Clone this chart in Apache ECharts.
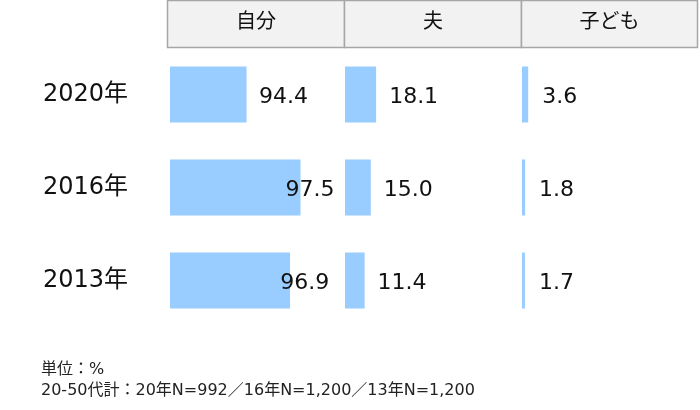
<!DOCTYPE html>
<html>
<head>
<meta charset="utf-8">
<script src="https://cdn.jsdelivr.net/npm/echarts@6/dist/echarts.min.js"></script>
<style>html,body{margin:0;padding:0;background:#fff}#c{width:700px;height:410px}</style>
</head>
<body>
<div id="c"></div>
<script>
const years = ['2020年', '2016年', '2013年'];
const panels = ['自分', '夫', '子ども'];
const jibun = [94.4, 97.5, 96.9];
const otto = [18.1, 15.0, 11.4];
const kodomo = [3.6, 1.8, 1.7];
const notes = ['単位：%', '20-50代計：20年N=992／16年N=1,200／13年N=1,200'];

const FONT = "'DejaVu Sans', 'Noto Sans CJK JP', sans-serif";
const BAR = '#99CCFF';
const TXT = '#111111';
const fmt = p => (Array.isArray(p.value) ? p.value[0] : p.value).toFixed(1);

const gridTop = 48, gridH = 279;
const cols = [
  { left: 170, width: 174 },
  { left: 345, width: 172 },
  { left: 522, width: 172 }
];
const headerX = [167.5, 344.5, 521.5, 697.5];

const chart = echarts.init(document.getElementById('c'), null, { renderer: 'canvas' });

const yAxisBase = (gi, showLabel) => ({
  type: 'category', gridIndex: gi, data: years, inverse: true,
  axisLine: { show: false }, axisTick: { show: false }, splitLine: { show: false },
  axisLabel: showLabel ? {
    show: true, fontSize: 24, color: TXT, fontFamily: FONT, align: 'left', margin: 127,
    padding: [4, 0, 0, 0]
  } : { show: false }
});
const xAxisBase = (gi, min, max) => ({
  type: 'value', gridIndex: gi, min: min, max: max, show: false
});

const valueLabel = (dist) => ({
  show: true, position: 'right', distance: dist, offset: [0, 3], fontSize: 22, color: TXT,
  fontFamily: FONT, formatter: fmt
});

const headerGraphics = [];
panels.forEach((name, i) => {
  headerGraphics.push({
    type: 'rect', silent: true,
    shape: { x: headerX[i], y: 0.5, width: headerX[i + 1] - headerX[i], height: 47 },
    style: { fill: '#F2F2F2', stroke: '#A6A6A6', lineWidth: 1.5 }
  });
  headerGraphics.push({
    type: 'text', silent: true,
    x: (headerX[i] + headerX[i + 1]) / 2, y: 23,
    style: { text: name, fontSize: 20, fill: TXT, fontFamily: FONT, align: 'center', verticalAlign: 'middle' }
  });
});
notes.forEach((t, i) => {
  headerGraphics.push({
    type: 'text', silent: true, x: 41, y: 370 + i * 21,
    style: { text: t, fontSize: 16, fill: '#222', fontFamily: FONT, align: 'left', verticalAlign: 'middle' }
  });
});

chart.setOption({
  animation: false,
  backgroundColor: '#fff',
  grid: cols.map(c => ({ left: c.left, width: c.width, top: gridTop, height: gridH })),
  xAxis: [
    xAxisBase(0, 90, 100),
    xAxisBase(1, 0, 100),
    xAxisBase(2, 0, 100),
    xAxisBase(0, 81.1, 101.5)
  ],
  yAxis: [yAxisBase(0, true), yAxisBase(1, false), yAxisBase(2, false)],
  graphic: headerGraphics,
  series: [
    { type: 'bar', name: panels[0], xAxisIndex: 0, yAxisIndex: 0, data: jibun,
      barWidth: 56, itemStyle: { color: BAR }, silent: true },
    { type: 'scatter', name: panels[0] + 'ラベル', xAxisIndex: 3, yAxisIndex: 0,
      data: jibun.map((v, i) => [v, years[i]]), symbolSize: 0, silent: true, z: 5,
      itemStyle: { opacity: 1 },
      label: { show: true, position: 'inside', offset: [0, 3], fontSize: 22, color: TXT, fontFamily: FONT, formatter: fmt } },
    { type: 'bar', name: panels[1], xAxisIndex: 1, yAxisIndex: 1, data: otto,
      barWidth: 56, itemStyle: { color: BAR }, silent: true, label: valueLabel(13) },
    { type: 'bar', name: panels[2], xAxisIndex: 2, yAxisIndex: 2, data: kodomo,
      barWidth: 56, itemStyle: { color: BAR }, silent: true, label: valueLabel(14) }
  ]
});
</script>
</body>
</html>
